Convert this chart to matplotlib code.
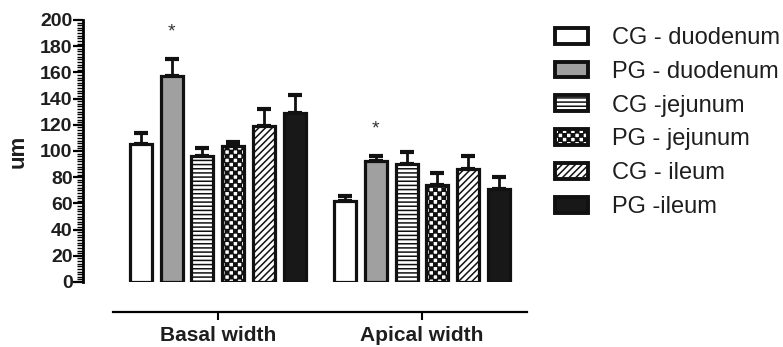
import numpy as np
import matplotlib
matplotlib.use("Agg")
import matplotlib.pyplot as plt
import matplotlib.hatch as mhatch
from matplotlib.path import Path

# ---------------- data ----------------
groups = ["Basal width", "Apical width"]
series = ["CG - duodenum", "PG - duodenum", "CG -jejunum", "PG - jejunum", "CG - ileum", "PG -ileum"]
means_basal = [105, 157, 96, 104, 119, 129]
errs_basal = [9, 13, 6, 3, 13, 14]
means_apical = [62, 92, 90, 74, 86, 71]
errs_apical = [4, 4, 9, 9, 10, 9]
star_bars = [(0, 1), (1, 1)]  # (group, series) carrying a '*'
y_ticks = list(range(0, 201, 20))

# ---------------- checkerboard hatch ----------------
class Checker(mhatch.HatchPatternBase):
    def __init__(self, hatch, density):
        self.num = int(hatch.count('.') * density)
        self.num_vertices = self.num * self.num * 2 * 5

    def set_vertices_and_codes(self, vertices, codes):
        n = self.num
        s = 1.0 / n
        h = s / 2 * 0.8
        k = 0
        for i in range(n):
            for j in range(n):
                for (ox, oy) in ((0, 0), (s / 2, s / 2)):
                    x0 = i * s + ox + s * 0.05
                    y0 = j * s + oy + s * 0.05
                    vertices[k:k + 5] = [(x0, y0), (x0 + h, y0), (x0 + h, y0 + h), (x0, y0 + h), (x0, y0)]
                    codes[k:k + 5] = [Path.MOVETO, Path.LINETO, Path.LINETO, Path.LINETO, Path.CLOSEPOLY]
                    k += 5

mhatch._hatch_types = [Checker if t is mhatch.SmallFilledCircles else t for t in mhatch._hatch_types]

plt.rcParams['font.family'] = ['Liberation Sans', 'DejaVu Sans']
plt.rcParams['hatch.linewidth'] = 1.1

faces = ['white', '#a0a0a0', 'white', 'white', 'white', '#181818']
hatches = [None, None, '----', '..', '/////', None]
ink = '#1e1e1e'

fig = plt.figure(figsize=(7.83, 3.47), dpi=100)
ax = fig.add_axes([83 / 783, 65 / 347, (527 - 83) / 783, (282 - 20) / 347])

pitch = 1.0
group_offset = 6.65
width = 0.72
centers = []
for g, (means, errs) in enumerate([(means_basal, errs_basal), (means_apical, errs_apical)]):
    xs = g * group_offset + np.arange(len(series)) * pitch
    centers.append(xs.mean())
    for i in range(len(series)):
        ax.bar(xs[i], means[i], width=width, color=faces[i], edgecolor='#111111',
               linewidth=2.3, hatch=hatches[i], zorder=3,
               label=series[i] if g == 0 else None)
        ax.errorbar(xs[i], means[i], yerr=[[0], [errs[i]]], fmt='none', ecolor='#111111',
                    elinewidth=2.0, capsize=5, capthick=3, zorder=2)
    for (gg, si) in star_bars:
        if gg == g:
            ax.text(xs[si], means[si] + errs[si] + 21, '*', ha='center', va='center',
                    fontsize=14, color='#333333')

ax.set_xlim(-1.89, 12.57)
ax.set_ylim(0, 200)

for s in ['top', 'right']:
    ax.spines[s].set_visible(False)
ax.spines['left'].set_linewidth(2.0)
ax.spines['left'].set_bounds(0, 200)
ax.spines['bottom'].set_linewidth(1.6)
ax.spines['bottom'].set_position(('outward', 21.6))
ax.spines['bottom'].set_bounds(-0.91, 12.57)

ax.set_yticks(y_ticks)
ax.set_yticks(np.arange(0, 201, 2), minor=True)
ax.set_yticklabels([str(t) for t in y_ticks], fontsize=14, fontweight='bold', color=ink)
ax.tick_params(axis='y', which='major', length=7, width=1.6, pad=0.5, direction='out')
ax.tick_params(axis='y', which='minor', length=4, width=1.0, direction='out')
ax.set_ylabel('um', fontsize=16, fontweight='bold', labelpad=8, color=ink)

ax.set_xticks(centers)
ax.set_xticklabels(groups, fontsize=15, fontweight='bold', color=ink)
ax.tick_params(axis='x', length=6, width=1.5, pad=4, direction='out')

leg = fig.legend(loc='upper left', bbox_to_anchor=(555 / 783, 1 - 27 / 347), frameon=False,
                 fontsize=17, handlelength=1.4, handleheight=0.65, labelspacing=0.5,
                 handletextpad=1.0, borderaxespad=0, borderpad=0, labelcolor=ink)
for p in leg.get_patches():
    p.set_linewidth(2.8)

fig.savefig('out.png', dpi=100)
